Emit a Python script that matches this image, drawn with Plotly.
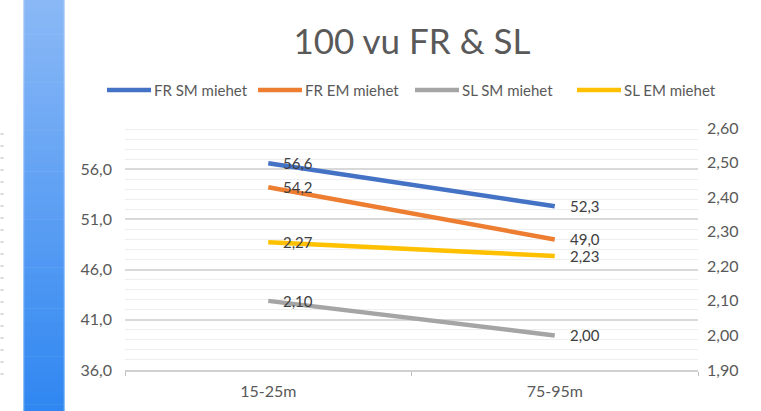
import plotly.graph_objects as go

# Distance groups on the category axis
categories = ["15-25m", "75-95m"]

# Freestyle times (left axis, seconds)
fr_sm = [56.6, 52.3]
fr_em = [54.2, 49.0]

# Stroke-length values (right axis, metres)
sl_sm = [2.10, 2.00]
sl_em = [2.27, 2.23]

left_ticks = [36.0, 41.0, 46.0, 51.0, 56.0]
right_ticks = [1.90, 2.00, 2.10, 2.20, 2.30, 2.40, 2.50, 2.60]

W, H = 761, 411
L, R, T, B = 125, 63, 125, 41
PW, PH = W - L - R, H - T - B

FONT = "Lato"
TXT = "#595959"
LBL = "#404040"


def px_x(x):
    return (x - L) / PW


def px_y(y):
    return (H - B - y) / PH


def fmt(v, nd):
    return f"{v:.{nd}f}".replace(".", ",")


series = [
    ("FR SM miehet", fr_sm, "#4472C4", "y", 1),
    ("FR EM miehet", fr_em, "#ED7D31", "y", 1),
    ("SL SM miehet", sl_sm, "#A5A5A5", "y2", 2),
    ("SL EM miehet", sl_em, "#FFC000", "y2", 2),
]

# left edge (px) of each legend entry
legend_x = [107, 258, 415, 577]
LEGEND_Y = 90
SWATCH = 44

fig = go.Figure()
annotations = []
shapes = []
for (name, vals, color, yax, nd), lx in zip(series, legend_x):
    fig.add_trace(go.Scatter(
        x=categories, y=vals, name=name, mode="lines", yaxis=yax,
        line=dict(color=color, width=4.5),
        hoverinfo="skip", showlegend=False,
    ))
    for c, v in zip(categories, vals):
        annotations.append(dict(
            x=c, y=v, xref="x", yref=yax, text=fmt(v, nd),
            showarrow=False, xanchor="left", yanchor="middle", xshift=14,
            borderpad=0,
            font=dict(family=FONT, size=15, color=LBL),
        ))
    # legend entry: swatch line + label
    shapes.append(dict(
        type="line", xref="paper", yref="paper",
        x0=px_x(lx), x1=px_x(lx + SWATCH), y0=px_y(LEGEND_Y), y1=px_y(LEGEND_Y),
        line=dict(color=color, width=4.5),
    ))
    annotations.append(dict(
        x=px_x(lx + SWATCH + 1), y=px_y(LEGEND_Y), xref="paper", yref="paper",
        text=name, showarrow=False, xanchor="left", yanchor="middle",
        font=dict(family=FONT, size=15, color=TXT),
    ))

# Decorative gradient strip on the left
top = (0x8A, 0xB8, 0xF6)
bot = (0x30, 0x87, 0xF1)
n = 60
for i in range(n):
    t = i / (n - 1)
    col = tuple(round(a + (b - a) * t) for a, b in zip(top, bot))
    y0 = H * i / n
    y1 = H * (i + 1) / n + 0.6
    shapes.append(dict(
        type="rect", xref="paper", yref="paper", layer="below",
        x0=px_x(23), x1=px_x(65), y0=px_y(y1), y1=px_y(y0),
        fillcolor="rgb(%d,%d,%d)" % col, line=dict(width=0),
    ))
for xe in (23.5, 64.5):
    shapes.append(dict(
        type="line", xref="paper", yref="paper", layer="below",
        x0=px_x(xe), x1=px_x(xe), y0=px_y(H), y1=px_y(0),
        line=dict(color="rgba(255,255,255,0.45)", width=1.5),
    ))
# faint tick marks at the far left edge
shapes.append(dict(
    type="line", xref="paper", yref="paper", layer="below",
    x0=px_x(2), x1=px_x(2), y0=px_y(375), y1=px_y(126),
    line=dict(color="#dadada", width=3, dash="2px,10px"),
))

fig.update_layout(
    width=W, height=H,
    margin=dict(l=L, r=R, t=T, b=B),
    paper_bgcolor="white", plot_bgcolor="white",
    separators=", ",
    showlegend=False,
    title=dict(
        text="100 vu FR &amp; SL", x=px_x(412), xref="paper", xanchor="center",
        y=1 - 42 / H, yanchor="middle",
        font=dict(family=FONT, size=35, color=TXT),
    ),
    xaxis=dict(
        type="category", range=[-0.5, 1.5], tickson="boundaries",
        ticks="outside", ticklen=4, tickcolor="#bfbfbf",
        showline=True, linecolor="#d0d0d0", linewidth=1.5,
        showgrid=False, zeroline=False, ticklabelstandoff=6,
        tickfont=dict(family=FONT, size=16, color=TXT),
    ),
    yaxis=dict(
        range=[36, 60.4], tickvals=left_ticks, tickformat=".1f",
        showgrid=True, gridcolor="#d9d9d9", gridwidth=1.5,
        minor=dict(dtick=1, tick0=36, showgrid=True, gridcolor="#eeeeee", gridwidth=1),
        zeroline=False, showline=False, ticks="",
        ticklabelstandoff=12,
        tickfont=dict(family=FONT, size=16, color=TXT),
    ),
    yaxis2=dict(
        range=[1.9, 2.609], tickvals=right_ticks, tickformat=".2f",
        overlaying="y", side="right", showgrid=False, zeroline=False,
        showline=False, ticks="", ticklabelstandoff=8,
        tickfont=dict(family=FONT, size=16, color=TXT),
    ),
    annotations=annotations,
    shapes=shapes,
)

fig.write_html("out.html")
